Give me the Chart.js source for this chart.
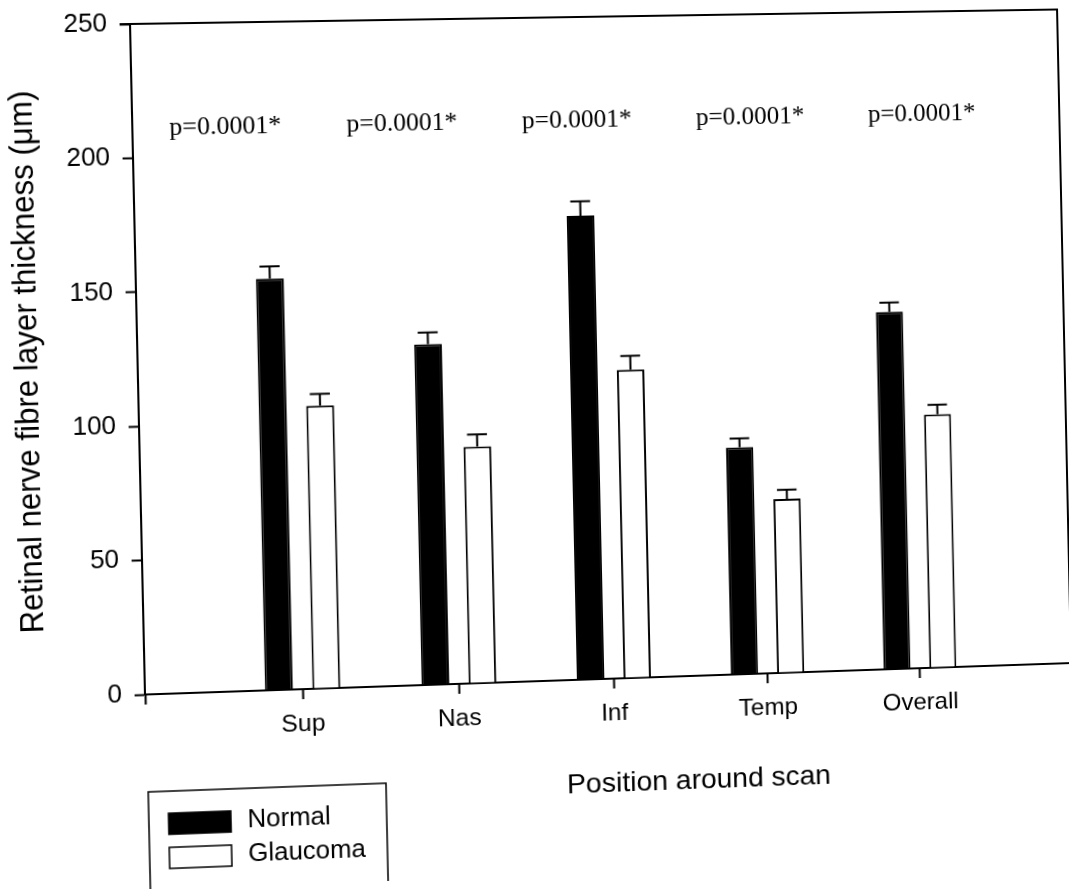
<!DOCTYPE html>
<html>
<head>
<meta charset="utf-8">
<script src="https://cdn.jsdelivr.net/npm/chart.js@4.4.1/dist/chart.umd.min.js"></script>
<style>
  html, body { margin: 0; padding: 0; background: #fff; overflow: hidden; }
  #rnfl { display: block; transform-origin: 0 0; }
</style>
</head>
<body>
<canvas id="rnfl" width="1069" height="889"></canvas>
<script>
// RNFL thickness by scan position, normal vs glaucoma (mean + SEM)
const categories = ["Sup", "Nas", "Inf", "Temp", "Overall"];
const normalMean = [154, 128, 175, 86, 136];
const normalSem = [4.5, 4.4, 5.5, 3.4, 3.5];
const glaucomaMean = [106, 89, 116.5, 66, 96.5];
const glaucomaSem = [4.4, 4.6, 5.2, 3.4, 3.7];
const pLabels = ["p=0.0001*", "p=0.0001*", "p=0.0001*", "p=0.0001*", "p=0.0001*"];
const pLabelLevel = 211;
const yMin = 0, yMax = 250, yStep = 50;
const xTitle = "Position around scan";

const SANS = "'Liberation Sans', Arial, Helvetica, sans-serif";
const SERIF = "'Liberation Serif', 'Times New Roman', serif";

Chart.defaults.font.family = SANS;
Chart.defaults.color = "#000";

// empty slot at each end so the groups sit at 1..5 on a 0..6 axis
const pad = arr => [null, ...arr, null];
const labels = ["", ...categories, ""];

// ------------------------
// Error bars (upper whisker only)
// ------------------------
const errorBars = {
    id: "errorBars",
    afterDatasetsDraw(chart) {
        const ctx = chart.ctx;
        const y = chart.scales.y;
        ctx.save();
        ctx.strokeStyle = "#000";
        ctx.lineWidth = 2;
        chart.data.datasets.forEach((ds, di) => {
            chart.getDatasetMeta(di).data.forEach((bar, i) => {
                const v = ds.data[i];
                if (v == null) return;
                const top = y.getPixelForValue(v + ds.errors[i]);
                const half = bar.width * 0.36;
                ctx.beginPath();
                ctx.moveTo(bar.x, bar.y);
                ctx.lineTo(bar.x, top);
                ctx.moveTo(bar.x - half, top);
                ctx.lineTo(bar.x + half, top);
                ctx.stroke();
            });
        });
        ctx.restore();
    }
};

// ------------------------
// Top / right frame, p-values, x title and boxed legend
// ------------------------
const decorations = {
    id: "decorations",
    afterDraw(chart) {
        const ctx = chart.ctx;
        const a = chart.chartArea;
        const y = chart.scales.y;
        const w = a.right - a.left;
        ctx.save();

        ctx.strokeStyle = "#000";
        ctx.lineWidth = 2;
        ctx.beginPath();
        ctx.moveTo(a.left - 10, a.top);
        ctx.lineTo(a.right, a.top);
        ctx.lineTo(a.right, a.bottom);
        ctx.stroke();

        ctx.fillStyle = "#000";
        ctx.textAlign = "center";
        ctx.textBaseline = "middle";
        ctx.font = "25px " + SERIF;
        pLabels.forEach((t, i) => {
            ctx.fillText(t, a.left + w * (0.098 + 0.1876 * i), y.getPixelForValue(pLabelLevel));
        });

        // axis title sits right of centre
        ctx.font = "28px " + SANS;
        ctx.fillText(xTitle, a.left + w * 0.59, a.bottom + 106);

        // legend box
        ctx.lineWidth = 1.5;
        ctx.strokeRect(146, 791, 230, 130);
        ctx.font = "25px " + SANS;
        ctx.textAlign = "left";
        chart.data.datasets.forEach((ds, i) => {
            const top = 813 + i * 34;
            ctx.fillStyle = ds.backgroundColor;
            ctx.fillRect(165, top, 60, 21);
            ctx.strokeRect(165, top, 60, 21);
            ctx.fillStyle = "#000";
            ctx.fillText(ds.label, 241, top + 10);
        });
        ctx.restore();
    }
};

const chart = new Chart(document.getElementById("rnfl"), {
    type: "bar",
    data: {
        labels: labels,
        datasets: [
            { label: "Normal", data: pad(normalMean), errors: pad(normalSem), backgroundColor: "#000", borderColor: "#000", borderWidth: 2 },
            { label: "Glaucoma", data: pad(glaucomaMean), errors: pad(glaucomaSem), backgroundColor: "#fff", borderColor: "#000", borderWidth: 2 },
        ],
    },
    options: {
        responsive: false,
        devicePixelRatio: 1,
        animation: false,
        categoryPercentage: 0.604,
        barPercentage: 0.59,
        layout: { padding: { left: 0, top: 24, right: 5, bottom: 72 } },
        plugins: { legend: { display: false }, tooltip: { enabled: false } },
        scales: {
            x: {
                offset: false,
                ticks: { color: "#000", font: { size: 24 }, padding: 11, autoSkip: false, maxRotation: 0 },
                grid: { drawOnChartArea: false, offset: false, tickLength: 10, tickColor: "#000", tickWidth: 2 },
                border: { color: "#000", width: 2 },
                title: { display: false },
                afterFit: s => { s.height = 123; },
            },
            y: {
                min: yMin,
                max: yMax,
                ticks: { stepSize: yStep, color: "#000", font: { size: 25 }, padding: 12 },
                grid: { drawOnChartArea: false, tickLength: 10, tickColor: "#000", tickWidth: 2 },
                border: { color: "#000", width: 2 },
                title: { display: true, text: "Retinal nerve fibre layer thickness (μm)", color: "#000", font: { size: 31 }, padding: { top: 22, bottom: 0 } },
                afterFit: s => { s.width = 145; },
            },
        },
    },
    plugins: [errorBars, decorations],
});

// ------------------------
// Slight skew of the printed page: map the plot corners onto the tilted frame
// ------------------------
function homography(src, dst) {
    const A = [], b = [];
    for (let i = 0; i < 4; i++) {
        const [x, y] = src[i], [X, Y] = dst[i];
        A.push([x, y, 1, 0, 0, 0, -X * x, -X * y]); b.push(X);
        A.push([0, 0, 0, x, y, 1, -Y * x, -Y * y]); b.push(Y);
    }
    for (let c = 0; c < 8; c++) {
        let p = c;
        for (let r = c + 1; r < 8; r++) if (Math.abs(A[r][c]) > Math.abs(A[p][c])) p = r;
        [A[c], A[p]] = [A[p], A[c]];
        [b[c], b[p]] = [b[p], b[c]];
        for (let r = 0; r < 8; r++) {
            if (r === c) continue;
            const f = A[r][c] / A[c][c];
            for (let k = c; k < 8; k++) A[r][k] -= f * A[c][k];
            b[r] -= f * b[c];
        }
    }
    return b.map((v, i) => v / A[i][i]);
}

const ca = chart.chartArea;
const h = homography(
    [[ca.left, ca.top], [ca.right, ca.top], [ca.left, ca.bottom], [ca.right, ca.bottom]],
    [[130, 24], [1057, 9.5], [145, 694.5], [1071, 663]]
);
chart.canvas.style.transform =
    `matrix3d(${h[0]},${h[3]},0,${h[6]},${h[1]},${h[4]},0,${h[7]},0,0,1,0,${h[2]},${h[5]},0,1)`;
</script>
</body>
</html>
